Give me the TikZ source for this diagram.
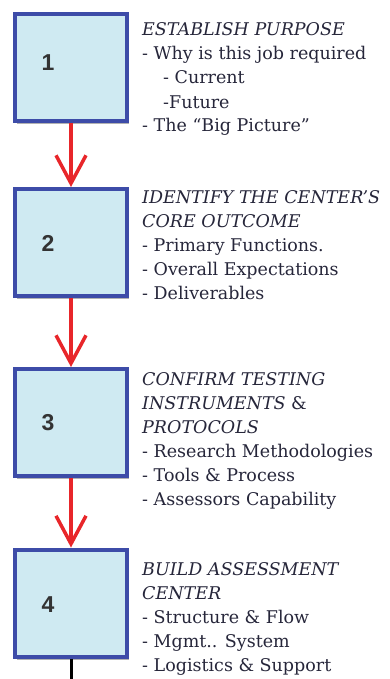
\documentclass[tikz,border=0pt]{standalone}
\usepackage{fontspec}
\setmainfont{DejaVu Serif}
\newfontfamily\numfont{Liberation Sans}
\usetikzlibrary{arrows.meta,shadows}
\definecolor{boxfill}{HTML}{CFEAF2}
\definecolor{boxline}{HTML}{3D4CA8}
\definecolor{txt}{HTML}{26263A}
\definecolor{arr}{HTML}{E8262A}
\tikzset{
  stepbox/.style={draw=boxline, line width=4pt, fill=boxfill, minimum width=112pt, minimum height=107pt, inner sep=0pt,
    drop shadow={shadow xshift=1.5pt, shadow yshift=-3pt, opacity=0.3, fill=black}},
  num/.style={font=\numfont\bfseries\fontsize{23}{23}\selectfont, text=black!80, inner sep=0pt},
  desc/.style={anchor=base west, align=left, inner sep=0pt, text=txt, font=\fontsize{17.5}{24}\selectfont},
  flow/.style={draw=arr, line width=3.5pt, -{Straight Barb[length=28pt, width=30pt, line width=3.5pt]}},
}
\begin{document}
\begin{tikzpicture}[x=1pt, y=-1pt]
\useasboundingbox (0,0) rectangle (390,679);
\node[stepbox] (b1) at (71,67.5) {};
\node[stepbox] (b2) at (71,242.5) {};
\node[stepbox] (b3) at (71,422.5) {};
\node[stepbox] (b4) at (71,603) {};
\node[num] (n1) at (48,63) {1};
\node[num] (n2) at (48,243) {2};
\node[num] (n3) at (48,423) {3};
\node[num] (n4) at (48,605) {4};
\draw[flow] (b1.south) -- (b2.north);
\draw[flow] (b2.south) -- (b3.north);
\draw[flow] (b3.south) -- (b4.north);
\coordinate (end) at (71,679);
\draw[line width=3pt, black] (b4.south) -- (end);
\node[desc] (t1) at (142,132) {\textit{ESTABLISH PURPOSE}\\- Why is this job required\\\hspace{21pt}- Current\\\hspace{21pt}-Future\\- The “Big Picture”};
\node[desc] (t2) at (142,299) {\textit{IDENTIFY THE CENTER'S}\\\textit{CORE OUTCOME}\\- Primary Functions.\\- Overall Expectations\\- Deliverables};
\node[desc] (t3) at (142,505) {\textit{CONFIRM TESTING}\\\textit{INSTRUMENTS} \&\\\textit{PROTOCOLS}\\- Research Methodologies\\- Tools \& Process\\- Assessors Capability};
\node[desc] (t4) at (142,671) {\textit{BUILD ASSESSMENT}\\\textit{CENTER}\\- Structure \& Flow\\- Mgmt.. System\\- Logistics \& Support};
\end{tikzpicture}
\end{document}
